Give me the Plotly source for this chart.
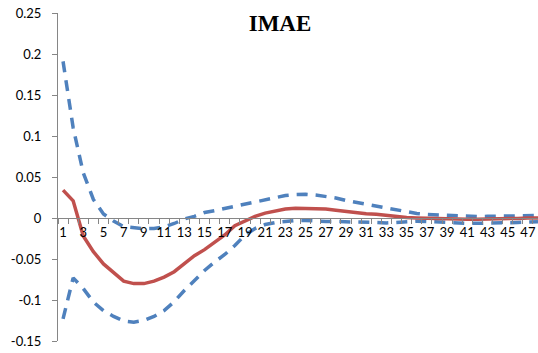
import plotly.graph_objects as go

periods = list(range(1, 49))

response = [0.034, 0.021, -0.022, -0.041, -0.056, -0.066, -0.077, -0.080, -0.080, -0.077,
            -0.072, -0.0655, -0.056, -0.046, -0.0386, -0.0297, -0.0207, -0.0094, -0.0033, 0.002,
            0.006, 0.009, 0.011, 0.012, 0.012, 0.0118, 0.011, 0.0094, 0.0077, 0.006,
            0.0053, 0.0045, 0.003, 0.0017, 0.0005, 0.0, -0.0005, -0.001, -0.0015, -0.0015,
            -0.0015, -0.0015, -0.0015, -0.001, -0.001, -0.0005, 0.0, 0.0]

upper = [0.191, 0.11, 0.055, 0.0226, 0.005, -0.0037, -0.0106, -0.012, -0.013, -0.0128,
         -0.011, -0.0067, -0.0012, 0.002, 0.0067, 0.009, 0.0116, 0.014, 0.017, 0.0195,
         0.0228, 0.025, 0.0274, 0.0287, 0.029, 0.028, 0.0262, 0.0244, 0.0213, 0.019,
         0.0165, 0.0146, 0.0122, 0.0094, 0.0073, 0.0055, 0.0043, 0.0037, 0.003, 0.002,
         0.0017, 0.0017, 0.002, 0.002, 0.0022, 0.0024, 0.0027, 0.003]

lower = [-0.123, -0.073, -0.086, -0.1025, -0.113, -0.12, -0.1256, -0.127, -0.125, -0.12,
         -0.113, -0.102, -0.0884, -0.0756, -0.064, -0.0537, -0.0445, -0.0335, -0.021, -0.0128,
         -0.008, -0.0055, -0.004, -0.003, -0.003, -0.004, -0.0043, -0.0043, -0.0044, -0.0045,
         -0.005, -0.0055, -0.006, -0.005, -0.0043, -0.004, -0.0043, -0.005, -0.0057, -0.0063,
         -0.0065, -0.0065, -0.0065, -0.0065, -0.006, -0.0055, -0.005, -0.0045]

y_tickvals = [0.25, 0.2, 0.15, 0.1, 0.05, 0, -0.05, -0.1, -0.15]
y_ticktext = ["0.25", "0.2", "0.15", "0.1", "0.05", "0", "-0.05", "-0.1", "-0.15"]
x_tickvals = list(range(1, 48, 2))
x_ticktext = [str(v) for v in x_tickvals]
x_boundaries = [p - 0.5 for p in periods] + [periods[-1] + 0.5]

Y_MIN, Y_MAX = -0.15, 0.25

BLUE = "#4F81BD"
RED = "#C0504D"
AXIS = "#868686"
TICKFONT = dict(family="Lato, Open Sans, sans-serif", size=13, color="#000000")

fig = go.Figure()
fig.add_trace(go.Scatter(x=periods, y=upper, mode="lines",
                         line=dict(color=BLUE, width=3.5, dash="11px,8px"),
                         showlegend=False, hoverinfo="skip"))
fig.add_trace(go.Scatter(x=periods, y=lower, mode="lines",
                         line=dict(color=BLUE, width=3.5, dash="11px,8px"),
                         showlegend=False, hoverinfo="skip"))
fig.add_trace(go.Scatter(x=periods, y=response, mode="lines",
                         line=dict(color=RED, width=3.5),
                         showlegend=False, hoverinfo="skip"))

fig.update_layout(
    width=538, height=353,
    margin=dict(l=58, r=0, t=13, b=12, autoexpand=False),
    paper_bgcolor="white", plot_bgcolor="white",
    hovermode=False,
    title=dict(text="<b>IMAE</b>", xref="container", yref="container",
               x=280 / 538, y=1 - 22.5 / 353, xanchor="center", yanchor="middle",
               font=dict(family="Liberation Serif, serif", size=23, color="#000000")),
    xaxis=dict(range=[0.5, 48.0], anchor="free", automargin=False,
               position=(0 - Y_MIN) / (Y_MAX - Y_MIN),
               showgrid=False, zeroline=False,
               showline=True, linecolor=AXIS, linewidth=1,
               tickmode="array", tickvals=x_tickvals, ticktext=x_ticktext,
               ticks="", ticklabelstandoff=2,
               tickfont=TICKFONT,
               minor=dict(tickmode="array", tickvals=x_boundaries, ticks="outside",
                          ticklen=5, tickcolor=AXIS, tickwidth=1, showgrid=False)),
    yaxis=dict(range=[Y_MIN, Y_MAX], domain=[0, 1], automargin=False,
               showgrid=False, zeroline=False,
               showline=True, linecolor=AXIS, linewidth=1,
               tickmode="array", tickvals=y_tickvals, ticktext=y_ticktext,
               ticks="outside", ticklen=5, tickcolor=AXIS, tickwidth=1,
               ticklabelstandoff=8,
               tickfont=TICKFONT),
)

fig.write_html("out.html",
               config={"displayModeBar": False},
               post_script="document.body.style.margin='0';document.body.style.overflow='hidden';")
